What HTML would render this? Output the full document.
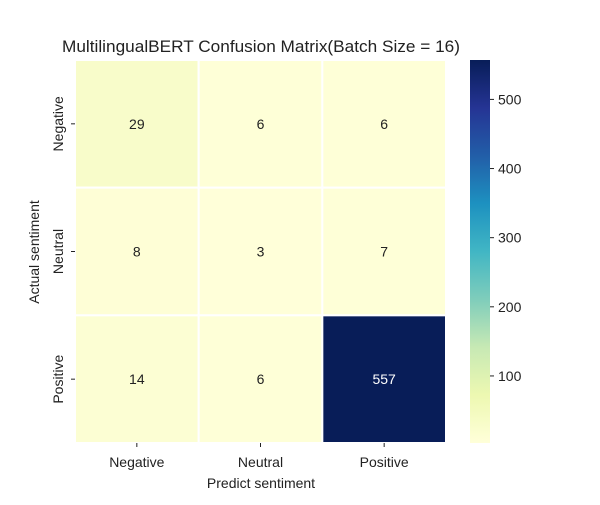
<!DOCTYPE html>
<html><head><meta charset="utf-8"><style>
body{margin:0;background:#fff;}
svg text{font-family:"Liberation Sans","Noto Sans CJK SC",sans-serif;fill:#222;}
</style></head><body>
<svg id="chart" width="600" height="500" viewBox="0 0 600 500" xmlns="http://www.w3.org/2000/svg">
<text x="62" y="52" font-size="17" textLength="398" lengthAdjust="spacingAndGlyphs">MultilingualBERT Confusion Matrix(Batch Size = 16)</text>
<text x="261" y="488" font-size="14" text-anchor="middle">Predict sentiment</text>
<text transform="translate(39,252) rotate(-90)" font-size="14" text-anchor="middle">Actual sentiment</text>
<defs><linearGradient id="cbg" x1="0" y1="1" x2="0" y2="0"></linearGradient></defs>
<g id="cells"></g><g id="axes"></g><g id="cbar"></g>
</svg>
<script>
const rows = ["Negative","Neutral","Positive"];
const cols = ["Negative","Neutral","Positive"];
const values = [[29,6,6],[8,3,7],[14,6,557]];
const cbTicks = [100,200,300,400,500];
const NS="http://www.w3.org/2000/svg";
const L=75,R=446,T=60,B=443;
const vmin=3,vmax=557;
const stops=["#ffffd9","#edf8b1","#c7e9b4","#7fcdbb","#41b6c4","#1d91c0","#225ea8","#253494","#081d58"];
function hex(h){return [1,3,5].map(i=>parseInt(h.substr(i,2),16));}
function color(v){let t=(v-vmin)/(vmax-vmin);t=Math.max(0,Math.min(1,t));const p=t*(stops.length-1);const i=Math.min(Math.floor(p),stops.length-2);const f=p-i;const a=hex(stops[i]),b=hex(stops[i+1]);return "rgb("+a.map((c,k)=>Math.round(c+(b[k]-c)*f)).join(",")+")";}
const cw=(R-L)/cols.length,ch=(B-T)/rows.length;
function xs(j){return L+j*cw;} function ys(i){return T+i*ch;}
function mk(tag,attrs,parent){const e=document.createElementNS(NS,tag);for(const k in attrs)e.setAttribute(k,attrs[k]);document.getElementById(parent).appendChild(e);return e;}
values.forEach((row,i)=>row.forEach((v,j)=>{
 const r=mk("rect",{x:xs(j),y:ys(i),width:cw,height:ch,fill:color(v),stroke:"#fff","stroke-width":2},"cells");
 
 
 const dark=(v-vmin)/(vmax-vmin)>0.6;
 const t=mk("text",{x:xs(j)+cw/2,y:ys(i)+ch/2+5,"font-size":14,"text-anchor":"middle",style:"fill:"+(dark?"#fff":"#222")},"cells");
 t.textContent=v;
 
 
}));
cols.forEach((c,j)=>{
 const x=xs(j)+cw/2;
 mk("line",{x1:x,x2:x,y1:B,y2:B+4,stroke:"#222"},"axes");
 const t=mk("text",{x:x,y:B+24,"font-size":14,"text-anchor":"middle"},"axes");t.textContent=c;
 
 
});
rows.forEach((r,i)=>{
 const y=ys(i)+ch/2;
 mk("line",{x1:L-4,x2:L,y1:y,y2:y,stroke:"#222"},"axes");
 const t=mk("text",{transform:"translate("+(L-12)+","+y+") rotate(-90)","font-size":14,"text-anchor":"middle"},"axes");t.textContent=r;
 
 
});
const g=document.getElementById("cbg");
stops.forEach((s,k)=>{const st=document.createElementNS(NS,"stop");st.setAttribute("offset",k/(stops.length-1));st.setAttribute("stop-color",s);g.appendChild(st);});
const CX=470,CW=20;
const cb=mk("rect",{x:CX,y:T,width:CW,height:B-T,fill:"url(#cbg)"},"cbar");


function cy(v){return B-(v-vmin)/(vmax-vmin)*(B-T);}
cbTicks.forEach(v=>{
 const y=cy(v);
 mk("line",{x1:CX+CW,x2:CX+CW+4,y1:y,y2:y,stroke:"#222"},"cbar");
 const t=mk("text",{x:CX+CW+8,y:y+5,"font-size":14},"cbar");t.textContent=v;
 
 
});
</script>
</body></html>
